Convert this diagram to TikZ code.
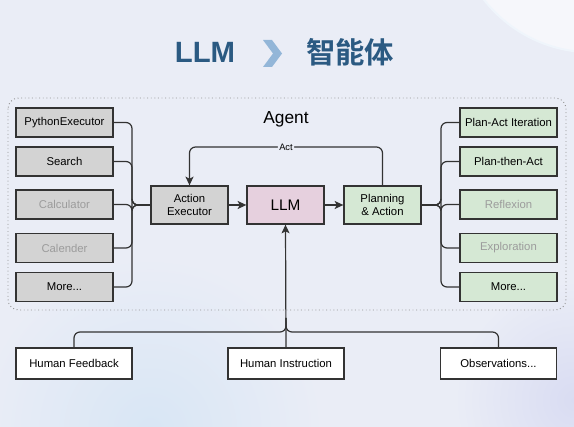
\documentclass[tikz,border=0pt]{standalone}
\usepackage{fontspec}
\setmainfont{Liberation Sans}
\newfontfamily\cjk{Noto Sans CJK SC}[BoldFont={Noto Sans CJK SC Bold}]
\usetikzlibrary{arrows.meta}
\definecolor{bg}{HTML}{EAEDF6}
\definecolor{bgblue}{HTML}{D8E6F5}
\definecolor{bglav}{HTML}{D9DCF2}
\definecolor{titleblue}{HTML}{2B5A82}
\definecolor{chev}{HTML}{93B6D8}
\definecolor{boxline}{HTML}{333333}
\definecolor{linecol}{HTML}{333333}
\definecolor{toolfill}{HTML}{D3D3D3}
\definecolor{planfill}{HTML}{D5E8D4}
\definecolor{llmfill}{HTML}{E6D0DE}
\definecolor{fadetext}{HTML}{9C9C9C}
\begin{document}
\begin{tikzpicture}[x=0.75pt,y=-0.75pt,
  boxfont/.style={font=\fontsize{8.5}{10}\selectfont},
  tool/.style={draw=boxline, line width=1pt, fill=toolfill, minimum width=72.75pt,
    minimum height=21.75pt, inner sep=0pt, boxfont},
  faded/.style={text=fadetext},
  plan/.style={tool, fill=planfill},
  core/.style={draw=boxline, line width=1pt, minimum width=57.75pt, minimum height=28.5pt,
    inner sep=0pt, align=center, boxfont},
  inputbox/.style={draw=boxline, line width=1pt, fill=white, minimum width=87pt,
    minimum height=23.25pt, inner sep=0pt, boxfont},
  conn/.style={draw=linecol, line width=0.9pt, rounded corners=4.5pt},
  arr/.style={conn, -{Stealth[length=6.5pt,width=6pt,inset=1.5pt]}},
  actlabel/.style={fill=bg, inner sep=1pt, font=\fontsize{7}{8}\selectfont}
]
\useasboundingbox (0,0) rectangle (574,427);

% backdrop
\begin{scope}
  \clip (0,0) rectangle (574,427);
  \fill[bg] (0,0) rectangle (574,427);
  \shade[inner color=bgblue, outer color=bg] (150,430) circle (130pt);
  \shade[inner color=bglav, outer color=bg] (574,400) circle (90pt);
  \fill[white!55!bg] (592,-85) circle (103pt);
  \draw[white!60!bgblue, line width=1.5pt] (592,-85) circle (103pt);
\end{scope}

% heading
\node[font=\fontsize{22}{24}\selectfont\bfseries, text=titleblue] (ttl) at (205,52) {LLM};
\fill[chev] (263,40) -- (272,40) -- (282,53.5) -- (272,67) -- (263,67) -- (273,53.5) -- cycle;
\node[font=\fontsize{22}{24}\selectfont\cjk\bfseries, text=titleblue] (ttlcn) at (350,52) {智能体};

% agent frame
\draw[dotted, draw=gray!85, line width=0.7pt, rounded corners=8pt] (8,98) rectangle (566,310);
\node[font=\fontsize{13}{15}\selectfont] (agent) at (286,119) {Agent};

% tools
\node[tool] (py) at (64.5,122.5) {PythonExecutor};
\node[tool] (search) at (64.5,161.5) {Search};
\node[tool, faded] (calc) at (64.5,204.5) {Calculator};
\node[tool, faded] (cal) at (64.5,248) {Calender};
\node[tool] (moreL) at (64.5,287) {More...};

% core chain
\node[core, fill=toolfill] (exec) at (189.5,205) {Action\\Executor};
\node[core, fill=llmfill, font=\fontsize{11.5}{13}\selectfont] (llm) at (285.5,205) {LLM};
\node[core, fill=planfill] (plan) at (382.5,205) {Planning\\\& Action};

% planning strategies
\node[plan] (pai) at (508.5,122.5) {Plan-Act Iteration};
\node[plan] (pta) at (508.5,161.5) {Plan-then-Act};
\node[plan, faded] (refl) at (508.5,204.5) {Reflexion};
\node[plan, faded] (expl) at (508.5,248) {Exploration};
\node[plan] (moreR) at (508.5,287) {More...};

% inputs
\node[inputbox] (hf) at (74,363.5) {Human Feedback};
\node[inputbox] (hi) at (286,363.5) {Human Instruction};
\node[inputbox] (obs) at (498.5,363.5) {Observations...};

% junction points
\coordinate (ljoin) at (132,205);
\coordinate (rjoin) at (441,205);
\coordinate (actrow) at (0,147);
\coordinate (bmid) at (286,332);
\coordinate (btop) at (286,318);

% tools merge into the executor
\foreach \t in {py,search,calc,cal,moreL}
  \draw[conn] (\t.east) -| (ljoin) -- (exec.west);

% planning fans out to strategies
\foreach \t in {pai,pta,refl,expl,moreR}
  \draw[conn] (plan.east) -- (rjoin) |- (\t.west);

% main flow
\draw[arr] (exec) -- (llm);
\draw[arr] (llm) -- (plan);
\draw[arr] (plan.north) |- node[actlabel, pos=0.75] {Act} (exec.north |- actrow) -- (exec.north);

% inputs into the LLM
\draw[conn] (hf.north) |- (bmid) -- (btop);
\draw[conn] (obs.north) |- (bmid) -- (btop);
\draw[arr] (hi.north) -- (llm.south);
\end{tikzpicture}
\end{document}
